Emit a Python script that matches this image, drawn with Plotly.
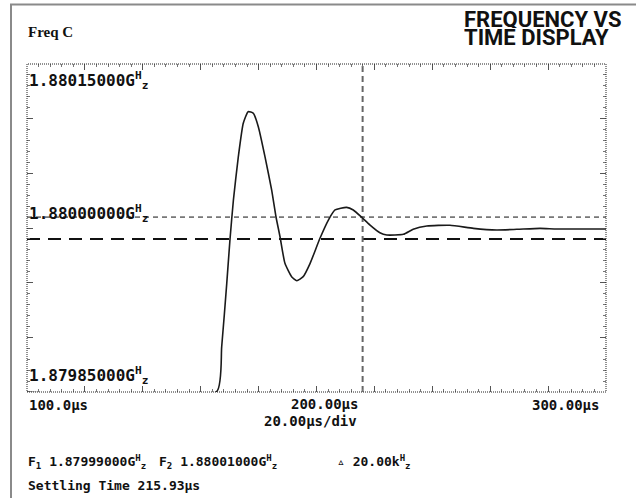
import plotly.graph_objects as go

# ---- data (time in µs, frequency offset from 1.88 GHz in kHz) ----
time_us = [100.0, 165.5, 167.25, 169.0, 170.1, 171.3, 173.0, 174.7, 176.4, 178.2, 179.9,
           182.2, 184.5, 186.0, 187.4, 189.1, 191.4, 193.2, 195.4, 197.8, 201.2, 204.1,
           206.4, 210.4, 212.7, 215.7, 218.5, 221.9, 224.3, 230.0, 233.4, 238.1, 246.1,
           254.2, 262.2, 269.2, 277.2, 283.0, 300.0]
freq_khz = [-150.0, -149.7, -108.6, -50.6, -11.0, 25.6, 65.2, 95.8, 106.4, 104.9, 92.6,
            65.2, 34.8, 10.3, -8.0, -32.3, -44.5, -48.2, -44.5, -32.3, -9.4, 7.3,
            16.5, 18.9, 16.5, 9.6, 2.7, -4.3, -6.4, -5.8, -1.2, 1.8, 2.5,
            -0.3, -1.8, -1.2, -0.3, -0.9, -0.9]

center_ghz = 1.88
x_range = [100.0, 300.0]
y_range = [-150.0, 150.0]
f1_khz = -10.0
f2_khz = 10.0
settling_us = 215.93

HZ = "G<sup>H</sup><sub>z</sub>"
y_labels = ["1.88015000" + HZ, "1.88000000" + HZ, "1.87985000" + HZ]
x_labels = ["100.0µs", "200.00µs", "300.00µs"]

MONO = "DejaVu Sans Mono"

fig = go.Figure()

# F2 cursor (thin dashed)
fig.add_trace(go.Scatter(x=x_range, y=[f2_khz, f2_khz], mode="lines",
                         line=dict(color="#111", width=1, dash="5px,4px"),
                         hoverinfo="skip", showlegend=False))
# F1 cursor (thick dashed)
fig.add_trace(go.Scatter(x=x_range, y=[f1_khz, f1_khz], mode="lines",
                         line=dict(color="#111", width=2, dash="13px,8px"),
                         hoverinfo="skip", showlegend=False))
# settling-time cursor
fig.add_trace(go.Scatter(x=[settling_us, settling_us], y=y_range, mode="lines",
                         line=dict(color="#666", width=2, dash="6px,4px"),
                         hoverinfo="skip", showlegend=False))
# frequency trace
fig.add_trace(go.Scatter(x=time_us, y=freq_khz, mode="lines",
                         line=dict(color="#1a1a1a", width=1.6, shape="spline", smoothing=0.5),
                         showlegend=False))

fig.update_xaxes(range=x_range, showgrid=False, zeroline=False, showline=False,
                 ticks="inside", tickmode="linear", tick0=100, dtick=20, ticklen=6,
                 tickcolor="#555", tickwidth=1, mirror="ticks", showticklabels=False,
                 minor=dict(ticks="inside", dtick=4, ticklen=3, tickcolor="#777", showgrid=False))
fig.update_yaxes(range=y_range, showgrid=False, zeroline=False, showline=False,
                 ticks="inside", tickmode="linear", tick0=-150, dtick=50, ticklen=6,
                 tickcolor="#555", tickwidth=1, mirror="ticks", showticklabels=False,
                 minor=dict(ticks="inside", dtick=10, ticklen=3, tickcolor="#777", showgrid=False))

# page-pixel -> paper helpers (plot area spans x 27..606, y 64..392)
PL, PR, PT, PB = 27, 606, 64, 392
def px(x): return (x - PL) / (PR - PL)
def py(y): return (PB - y) / (PB - PT)

shapes = [
    dict(type="rect", xref="paper", yref="paper", x0=0, x1=1, y0=0, y1=1,
         line=dict(color="#222", width=1, dash="1px,1px"), layer="above"),
    dict(type="line", xref="paper", yref="paper", x0=px(10), x1=px(636),
         y0=py(4.5), y1=py(4.5), line=dict(color="#8a8a8a", width=2)),
    dict(type="line", xref="paper", yref="paper", x0=px(11), x1=px(11),
         y0=py(4), y1=py(498), line=dict(color="#8a8a8a", width=2)),
]

ann = []
lab_font = dict(family=MONO, size=16, color="#111")
ann.append(dict(x=x_range[0], y=y_range[1], xref="x", yref="y", text="<b>" + y_labels[0] + "</b>",
                showarrow=False, xanchor="left", yanchor="top", yshift=-3, font=lab_font))
ann.append(dict(x=x_range[0], y=0, xref="x", yref="y", text="<b>" + y_labels[1] + "</b>",
                showarrow=False, xanchor="left", yanchor="bottom", yshift=1, font=lab_font))
ann.append(dict(x=x_range[0], y=y_range[0], xref="x", yref="y", text="<b>" + y_labels[2] + "</b>",
                showarrow=False, xanchor="left", yanchor="bottom", yshift=3, font=lab_font))

xl_font = dict(family=MONO, size=14, color="#111")
ann.append(dict(x=px(27), y=py(405), xref="paper", yref="paper", text="<b>" + x_labels[0] + "</b>",
                showarrow=False, xanchor="left", yanchor="middle", font=xl_font))
ann.append(dict(x=px(324), y=py(404), xref="paper", yref="paper", text="<b>" + x_labels[1] + "</b>",
                showarrow=False, xanchor="center", yanchor="middle", font=xl_font))
ann.append(dict(x=px(601), y=py(405), xref="paper", yref="paper", text="<b>" + x_labels[2] + "</b>",
                showarrow=False, xanchor="right", yanchor="middle", font=xl_font))
ann.append(dict(x=px(310), y=py(421), xref="paper", yref="paper", text="<b>20.00µs/div</b>",
                showarrow=False, xanchor="center", yanchor="middle", font=xl_font))

ann.append(dict(x=px(26), y=py(32), xref="paper", yref="paper", text="<b>Freq C</b>",
                showarrow=False, xanchor="left", yanchor="middle",
                font=dict(family="Liberation Serif", size=15, color="#111")))

title_font = dict(family="Roboto, Liberation Sans, sans-serif", size=22, color="#111")
ann.append(dict(x=px(463), y=py(19), xref="paper", yref="paper", text="<b>FREQUENCY VS</b>",
                showarrow=False, xanchor="left", yanchor="middle", height=18, borderpad=0,
                valign="middle", font=title_font))
ann.append(dict(x=px(463), y=py(37.5), xref="paper", yref="paper", text="<b>TIME DISPLAY</b>",
                showarrow=False, xanchor="left", yanchor="middle", height=18, borderpad=0,
                valign="middle", font=title_font))

bt_font = dict(family=MONO, size=13, color="#111")
ann.append(dict(x=px(26), y=py(462), xref="paper", yref="paper",
                text="<b>F<sub>1</sub> %.8f%s</b>" % (center_ghz + f1_khz * 1e-6, HZ),
                showarrow=False, xanchor="left", yanchor="middle", font=bt_font))
ann.append(dict(x=px(157), y=py(462), xref="paper", yref="paper",
                text="<b>F<sub>2</sub> %.8f%s</b>" % (center_ghz + f2_khz * 1e-6, HZ),
                showarrow=False, xanchor="left", yanchor="middle", font=bt_font))
ann.append(dict(x=px(335), y=py(462), xref="paper", yref="paper",
                text="<b>\u25b5 %.2fk<sup>H</sup><sub>z</sub></b>" % (f2_khz - f1_khz),
                showarrow=False, xanchor="left", yanchor="middle", font=bt_font))
ann.append(dict(x=px(26), y=py(485), xref="paper", yref="paper",
                text="<b>Settling Time %.2fµs</b>" % settling_us,
                showarrow=False, xanchor="left", yanchor="middle", font=bt_font))

fig.update_layout(width=636, height=498,
                  margin=dict(l=PL, r=636 - PR, t=PT, b=498 - PB),
                  plot_bgcolor="white", paper_bgcolor="white",
                  shapes=shapes, annotations=ann, showlegend=False)

fig.write_html("out.html", config={"displayModeBar": False},
               post_script="document.body.style.margin='0';")
